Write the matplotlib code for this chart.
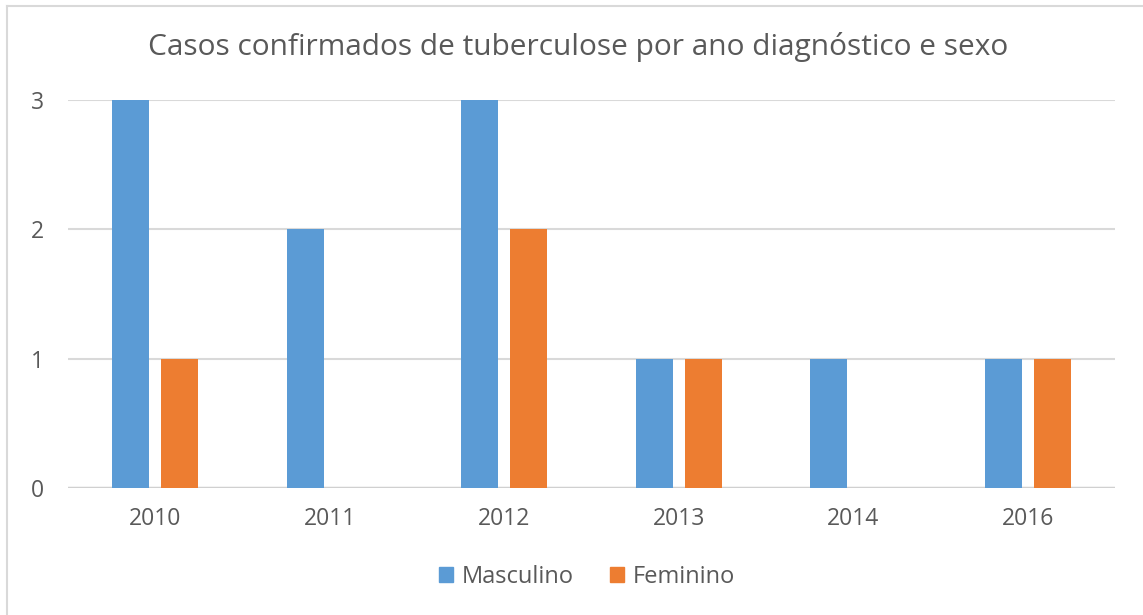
import matplotlib
matplotlib.use('agg')
import matplotlib.pyplot as plt
import numpy as np
from matplotlib.lines import Line2D
from matplotlib.patches import Patch

# Data
anos = ['2010', '2011', '2012', '2013', '2014', '2016']
masculino = [3, 2, 3, 1, 1, 1]
feminino = [1, 0, 2, 1, 0, 1]

plt.rcParams['font.family'] = ['Open Sans', 'DejaVu Sans']
texto = '#595959'

fig = plt.figure(figsize=(11.43, 6.15), dpi=100)
ax = fig.add_axes([68 / 1143, 1 - 488 / 615, 1047 / 1143, 388 / 615])

x = np.arange(len(anos))
w = 0.212
ax.bar(x - 0.14, masculino, w, color='#5B9BD5', zorder=3)
ax.bar(x + 0.14, feminino, w, color='#ED7D31', zorder=3)

ax.set_xlim(-0.5, len(anos) - 0.5)
ax.set_ylim(0, 3)
ax.set_yticks([0, 1, 2, 3])
ax.set_xticks(x)
ax.set_xticklabels(anos)
ax.grid(axis='y', color='#D9D9D9', linewidth=1.5, zorder=0)
ax.set_axisbelow(True)
for s in ax.spines.values():
    s.set_visible(False)
ax.tick_params(length=0, labelsize=16.5, colors=texto)
ax.tick_params(axis='y', pad=17)
ax.tick_params(axis='x', pad=14)
ax.get_ygridlines()[0].set_color('#D0D0D0')
ax.get_ygridlines()[0].set_linewidth(2.5)

fig.text(578 / 1143, 1 - 47 / 615, 'Casos confirmados de tuberculose por ano diagnóstico e sexo',
         ha='center', va='center', fontsize=21.5, color=texto)

handles = [Patch(color='#5B9BD5', label='Masculino'),
           Patch(color='#ED7D31', label='Feminino')]
fig.legend(handles=handles, loc='center', bbox_to_anchor=(587 / 1143, 1 - 577 / 615),
           ncol=2, frameon=False, fontsize=17, labelcolor=texto,
           handlelength=0.6, handleheight=0.6, handletextpad=0.4, columnspacing=1.5)

# chart border (left and top)
fig.add_artist(Line2D([7 / 1143, 7 / 1143], [0, 1 - 6 / 615], color='#D9D9D9', linewidth=1.5))
fig.add_artist(Line2D([7 / 1143, 1], [1 - 6 / 615, 1 - 6 / 615], color='#D9D9D9', linewidth=1.5))

fig.savefig('out.png', dpi=100, facecolor='white')
